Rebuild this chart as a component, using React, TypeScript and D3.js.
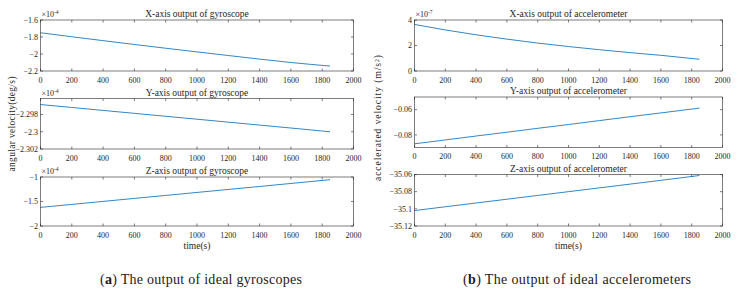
import React from "react";
import * as d3 from "d3";

const timeTicks = [0, 200, 400, 600, 800, 1000, 1200, 1400, 1600, 1800, 2000];
const sampleTimes = [0, 200, 400, 600, 800, 1000, 1200, 1400, 1600, 1850];

// gyroscope outputs (scaled by exponent shown on axis)
const gyroX = [-1.75, -1.797, -1.843, -1.888, -1.932, -1.975, -2.018, -2.06, -2.1, -2.142];
const gyroY = [-2.29685, -2.29719, -2.29753, -2.29787, -2.29821, -2.29855, -2.29889, -2.29923, -2.29957, -2.3];
const gyroZ = [-1.62, -1.559, -1.498, -1.437, -1.376, -1.315, -1.254, -1.193, -1.132, -1.055];

// accelerometer outputs
const accX = [3.65, 3.22, 2.84, 2.5, 2.19, 1.92, 1.67, 1.44, 1.23, 0.92];
const accY = [-0.0871, -0.084, -0.0809, -0.0779, -0.0748, -0.0718, -0.0687, -0.0656, -0.0626, -0.0588];
const accZ = [-35.102, -35.0976, -35.0932, -35.0888, -35.0844, -35.08, -35.0756, -35.0712, -35.0668, -35.0612];

const gyroXTicks = [-2.2, -2, -1.8, -1.6];
const gyroYTicks = [-2.302, -2.3, -2.298];
const gyroZTicks = [-2, -1.5, -1];
const accXTicks = [0, 2, 4];
const accYTicks = [-0.08, -0.06];
const accZTicks = [-35.12, -35.1, -35.08, -35.06];

const titles = [
  "X-axis output of gyroscope",
  "Y-axis output of gyroscope",
  "Z-axis output of gyroscope",
  "X-axis output of accelerometer",
  "Y-axis output of accelerometer",
  "Z-axis output of accelerometer",
];

const FONT = "'Liberation Serif', 'DejaVu Serif', serif";
const LINE = "#1a78c2";
const AX = "#262626";

type PanelProps = {
  x0: number; x1: number; y0: number; y1: number;
  domain: [number, number];
  yTicks: number[];
  values: number[];
  title: string;
  exponent?: string;
  fmt: (v: number) => string;
  xlabel?: boolean;
};

function Panel(p: PanelProps) {
  const xs = d3.scaleLinear().domain([0, 2000]).range([p.x0, p.x1]);
  const ys = d3.scaleLinear().domain(p.domain).range([p.y1, p.y0]);
  const line = d3.line<number>().x((_, i) => xs(sampleTimes[i])).y((d) => ys(d)).curve(d3.curveMonotoneX);
  const tl = 2.5;
  return (
    <g>
      <path d={line(p.values) || ""} fill="none" stroke={LINE} strokeWidth={0.9} />
      <rect x={p.x0} y={p.y0} width={p.x1 - p.x0} height={p.y1 - p.y0} fill="none" stroke={AX} strokeWidth={0.6} />
      {timeTicks.map((t) => (
        <g key={"x" + t}>
          <line x1={xs(t)} x2={xs(t)} y1={p.y1} y2={p.y1 - tl} stroke={AX} strokeWidth={0.6} />
          <line x1={xs(t)} x2={xs(t)} y1={p.y0} y2={p.y0 + tl} stroke={AX} strokeWidth={0.6} />
          <text x={xs(t)} y={p.y1 + 11.5} textAnchor="middle" fontSize={8} fontFamily={FONT} fill={AX}>{t}</text>
        </g>
      ))}
      {p.yTicks.map((t) => (
        <g key={"y" + t}>
          <line x1={p.x0} x2={p.x0 + tl} y1={ys(t)} y2={ys(t)} stroke={AX} strokeWidth={0.6} />
          <line x1={p.x1} x2={p.x1 - tl} y1={ys(t)} y2={ys(t)} stroke={AX} strokeWidth={0.6} />
          <text x={p.x0 - 2.5} y={ys(t) + 2.8} textAnchor="end" fontSize={8} fontFamily={FONT} fill={AX}>{p.fmt(t)}</text>
        </g>
      ))}
      {p.exponent && (
        <text x={p.x0 + 1} y={p.y0 - 3} fontSize={8} fontFamily={FONT} fill={AX}>
          ×10<tspan dy={-3} fontSize={5.5}>{p.exponent}</tspan>
        </text>
      )}
      <text x={(p.x0 + p.x1) / 2} y={p.y0 - 3} textAnchor="middle" fontSize={9.5} fontFamily={FONT} fill={AX}>{p.title}</text>
      {p.xlabel && (
        <text x={(p.x0 + p.x1) / 2} y={p.y1 + 23} textAnchor="middle" fontSize={9.5} fontFamily={FONT} fill={AX}>time(s)</text>
      )}
    </g>
  );
}

const fmtG = (v: number) => d3.format("~g")(v);

export default function App() {
  const L = { x0: 40.5, x1: 353.5 };
  const R = { x0: 414.5, x1: 722.5 };
  return (
    <svg width={738} height={296} style={{ position: "absolute", left: 0, top: 0, background: "#fff" }}>
      <rect width={738} height={296} fill="#fff" />
      <Panel {...L} y0={20} y1={71} domain={[-2.2, -1.6]} yTicks={gyroXTicks} values={gyroX} title={titles[0]} exponent="-4" fmt={fmtG} />
      <Panel {...L} y0={98.5} y1={149} domain={[-2.302, -2.29615]} yTicks={gyroYTicks} values={gyroY} title={titles[1]} exponent="-4" fmt={(v) => d3.format(".3~f")(v)} />
      <Panel {...L} y0={177} y1={226} domain={[-2, -1]} yTicks={gyroZTicks} values={gyroZ} title={titles[2]} exponent="-4" fmt={fmtG} xlabel />
      <Panel {...R} y0={20} y1={71} domain={[0, 4]} yTicks={accXTicks} values={accX} title={titles[3]} exponent="-7" fmt={fmtG} />
      <Panel {...R} y0={97} y1={147.5} domain={[-0.09, -0.05]} yTicks={accYTicks} values={accY} title={titles[4]} fmt={(v) => d3.format(".2f")(v)} />
      <Panel {...R} y0={174.5} y1={226} domain={[-35.12, -35.06]} yTicks={accZTicks} values={accZ} title={titles[5]} fmt={(v) => d3.format(".2~f")(v)} xlabel />
      <text transform="translate(15,124) rotate(-90)" textAnchor="middle" fontSize={9.3} fontFamily={FONT} fill={AX} textLength={95} lengthAdjust="spacing">angular velocity(deg/s)</text>
      <text transform="translate(381,118) rotate(-90)" textAnchor="middle" fontSize={9.5} fontFamily={FONT} fill={AX} textLength={126} lengthAdjust="spacing">accelerated velocity (m/s²)</text>
      <text x={201} y={283.5} textAnchor="middle" fontSize={14} fontFamily={FONT} fill="#1a1a1a" textLength={202} lengthAdjust="spacing">
        (<tspan fontWeight="bold">a</tspan>) The output of ideal gyroscopes
      </text>
      <text x={577} y={283.5} textAnchor="middle" fontSize={14} fontFamily={FONT} fill="#1a1a1a" textLength={228} lengthAdjust="spacing">
        (<tspan fontWeight="bold">b</tspan>) The output of ideal accelerometers
      </text>
    </svg>
  );
}
